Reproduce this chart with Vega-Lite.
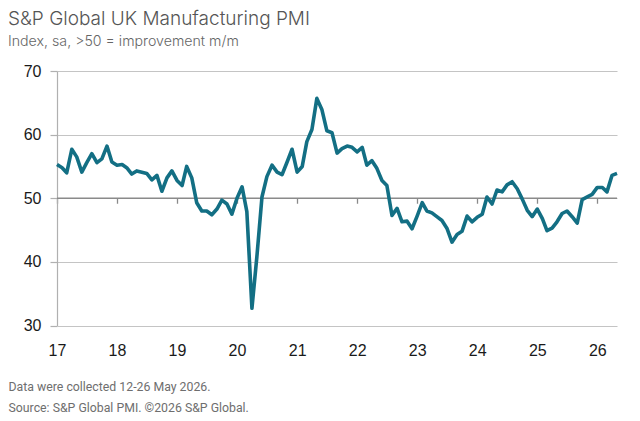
{
  "$schema": "https://vega.github.io/schema/vega-lite/v6.json",
  "width": 560,
  "height": 254.5,
  "autosize": {"type": "none"},
  "padding": {"left": 57, "top": 71, "right": 23, "bottom": 95.5},
  "background": "white",
  "config": {"view": {"stroke": null}},
  "title": {
    "text": "S&P Global UK Manufacturing PMI",
    "subtitle": "Index, sa, >50 = improvement m/m",
    "anchor": "start",
    "frame": "group",
    "dx": -49,
    "offset": 14,
    "font": "Inter",
    "fontSize": 19,
    "fontWeight": 300,
    "color": "#555555",
    "subtitleFont": "Inter",
    "subtitleFontSize": 14.2,
    "subtitleFontWeight": 300,
    "subtitleColor": "#666666",
    "subtitlePadding": 6
  },
  "data": {
    "values": [
      {"date": "2017-01-01", "pmi": 55.3}, {"date": "2017-02-01", "pmi": 54.8}, {"date": "2017-03-01", "pmi": 54.0}, {"date": "2017-04-01", "pmi": 57.7}, {"date": "2017-05-01", "pmi": 56.5}, {"date": "2017-06-01", "pmi": 54.1}, {"date": "2017-07-01", "pmi": 55.6}, {"date": "2017-08-01", "pmi": 57.0}, {"date": "2017-09-01", "pmi": 55.6}, {"date": "2017-10-01", "pmi": 56.2}, {"date": "2017-11-01", "pmi": 58.2}, {"date": "2017-12-01", "pmi": 55.7},
      {"date": "2018-01-01", "pmi": 55.2}, {"date": "2018-02-01", "pmi": 55.3}, {"date": "2018-03-01", "pmi": 54.8}, {"date": "2018-04-01", "pmi": 53.8}, {"date": "2018-05-01", "pmi": 54.3}, {"date": "2018-06-01", "pmi": 54.1}, {"date": "2018-07-01", "pmi": 53.9}, {"date": "2018-08-01", "pmi": 52.9}, {"date": "2018-09-01", "pmi": 53.6}, {"date": "2018-10-01", "pmi": 51.1}, {"date": "2018-11-01", "pmi": 53.2}, {"date": "2018-12-01", "pmi": 54.3},
      {"date": "2019-01-01", "pmi": 52.8}, {"date": "2019-02-01", "pmi": 52.0}, {"date": "2019-03-01", "pmi": 55.0}, {"date": "2019-04-01", "pmi": 53.2}, {"date": "2019-05-01", "pmi": 49.3}, {"date": "2019-06-01", "pmi": 48.0}, {"date": "2019-07-01", "pmi": 48.0}, {"date": "2019-08-01", "pmi": 47.4}, {"date": "2019-09-01", "pmi": 48.3}, {"date": "2019-10-01", "pmi": 49.7}, {"date": "2019-11-01", "pmi": 49.1}, {"date": "2019-12-01", "pmi": 47.5},
      {"date": "2020-01-01", "pmi": 50.0}, {"date": "2020-02-01", "pmi": 51.8}, {"date": "2020-03-01", "pmi": 47.9}, {"date": "2020-04-01", "pmi": 32.7}, {"date": "2020-05-01", "pmi": 40.8}, {"date": "2020-06-01", "pmi": 50.2}, {"date": "2020-07-01", "pmi": 53.4}, {"date": "2020-08-01", "pmi": 55.2}, {"date": "2020-09-01", "pmi": 54.1}, {"date": "2020-10-01", "pmi": 53.7}, {"date": "2020-11-01", "pmi": 55.7}, {"date": "2020-12-01", "pmi": 57.7},
      {"date": "2021-01-01", "pmi": 54.1}, {"date": "2021-02-01", "pmi": 55.0}, {"date": "2021-03-01", "pmi": 58.9}, {"date": "2021-04-01", "pmi": 60.8}, {"date": "2021-05-01", "pmi": 65.7}, {"date": "2021-06-01", "pmi": 63.9}, {"date": "2021-07-01", "pmi": 60.6}, {"date": "2021-08-01", "pmi": 60.3}, {"date": "2021-09-01", "pmi": 57.1}, {"date": "2021-10-01", "pmi": 57.8}, {"date": "2021-11-01", "pmi": 58.2}, {"date": "2021-12-01", "pmi": 58.0},
      {"date": "2022-01-01", "pmi": 57.3}, {"date": "2022-02-01", "pmi": 58.0}, {"date": "2022-03-01", "pmi": 55.2}, {"date": "2022-04-01", "pmi": 55.9}, {"date": "2022-05-01", "pmi": 54.7}, {"date": "2022-06-01", "pmi": 52.8}, {"date": "2022-07-01", "pmi": 52.0}, {"date": "2022-08-01", "pmi": 47.3}, {"date": "2022-09-01", "pmi": 48.4}, {"date": "2022-10-01", "pmi": 46.3}, {"date": "2022-11-01", "pmi": 46.4}, {"date": "2022-12-01", "pmi": 45.2},
      {"date": "2023-01-01", "pmi": 47.2}, {"date": "2023-02-01", "pmi": 49.3}, {"date": "2023-03-01", "pmi": 48.0}, {"date": "2023-04-01", "pmi": 47.7}, {"date": "2023-05-01", "pmi": 47.1}, {"date": "2023-06-01", "pmi": 46.5}, {"date": "2023-07-01", "pmi": 45.3}, {"date": "2023-08-01", "pmi": 43.1}, {"date": "2023-09-01", "pmi": 44.3}, {"date": "2023-10-01", "pmi": 44.8}, {"date": "2023-11-01", "pmi": 47.2}, {"date": "2023-12-01", "pmi": 46.3},
      {"date": "2024-01-01", "pmi": 47.0}, {"date": "2024-02-01", "pmi": 47.5}, {"date": "2024-03-01", "pmi": 50.2}, {"date": "2024-04-01", "pmi": 49.1}, {"date": "2024-05-01", "pmi": 51.3}, {"date": "2024-06-01", "pmi": 51.0}, {"date": "2024-07-01", "pmi": 52.1}, {"date": "2024-08-01", "pmi": 52.6}, {"date": "2024-09-01", "pmi": 51.5}, {"date": "2024-10-01", "pmi": 49.9}, {"date": "2024-11-01", "pmi": 48.1}, {"date": "2024-12-01", "pmi": 47.1},
      {"date": "2025-01-01", "pmi": 48.3}, {"date": "2025-02-01", "pmi": 46.8}, {"date": "2025-03-01", "pmi": 44.9}, {"date": "2025-04-01", "pmi": 45.3}, {"date": "2025-05-01", "pmi": 46.3}, {"date": "2025-06-01", "pmi": 47.6}, {"date": "2025-07-01", "pmi": 48.0}, {"date": "2025-08-01", "pmi": 47.1}, {"date": "2025-09-01", "pmi": 46.1}, {"date": "2025-10-01", "pmi": 49.8}, {"date": "2025-11-01", "pmi": 50.2}, {"date": "2025-12-01", "pmi": 50.6},
      {"date": "2026-01-01", "pmi": 51.7}, {"date": "2026-02-01", "pmi": 51.7}, {"date": "2026-03-01", "pmi": 51.0}, {"date": "2026-04-01", "pmi": 53.6}, {"date": "2026-05-01", "pmi": 53.9}
    ]
  },
  "resolve": {"axis": {"x": "independent"}},
  "layer": [
    {
      "mark": {"type": "line", "color": "#8a8a8a", "strokeWidth": 1.3},
      "encoding": {
        "x": {
          "field": "date", "type": "temporal", "scale": {"type": "utc"},
          "axis": {
            "orient": "bottom", "offset": -127.25, "labels": false, "title": null,
            "domain": false, "grid": false, "ticks": true, "tickSize": 5,
            "tickColor": "#8a8a8a", "tickWidth": 1.3,
            "tickCount": {"interval": "year", "step": 1}
          }
        },
        "y": {"datum": 50, "type": "quantitative"}
      }
    },
    {
      "mark": {"type": "line", "color": "#136f84", "strokeWidth": 3.6, "strokeJoin": "round"},
      "encoding": {
        "x": {
          "field": "date", "type": "temporal", "scale": {"type": "utc"},
          "axis": {
            "orient": "bottom", "format": "%y",
            "tickCount": {"interval": "year", "step": 1},
            "domain": false, "grid": false, "ticks": false,
            "labelPadding": 17, "labelFont": "Liberation Sans", "labelFontSize": 16,
            "labelColor": "#1a1a1a", "labelBaseline": "top", "labelFlush": false,
            "title": ["Data were collected 12-26 May 2026.", "Source: S&P Global PMI. ©2026 S&P Global."],
            "titleX": -49, "titleY": 65, "titleAlign": "left",
            "titleBaseline": "alphabetic", "titleFont": "Roboto", "titleFontSize": 12.3,
            "titleFontWeight": "normal", "titleColor": "#6e6e6e", "titleLineHeight": 21
          }
        },
        "y": {
          "field": "pmi", "type": "quantitative",
          "scale": {"domain": [30, 70], "nice": false, "zero": false},
          "axis": {
            "values": [30, 40, 50, 60, 70], "title": null,
            "grid": true, "gridColor": "#c4c4c4", "gridWidth": 1.2,
            "domain": true, "domainColor": "#b0b0b0", "domainWidth": 1.2,
            "ticks": true, "tickSize": 7, "tickColor": "#b0b0b0", "tickWidth": 1.2,
            "labelPadding": 9, "labelFont": "Liberation Sans", "labelFontSize": 16,
            "labelColor": "#1a1a1a"
          }
        }
      }
    }
  ]
}
